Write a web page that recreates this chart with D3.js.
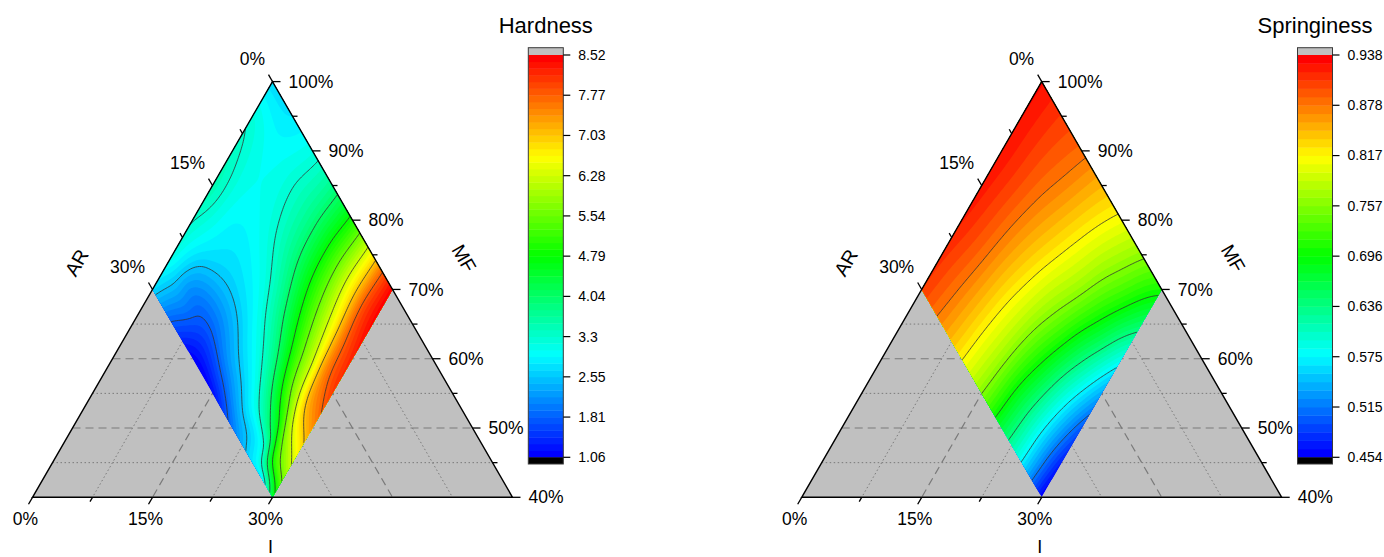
<!DOCTYPE html>
<html>
<head>
<meta charset="utf-8">
<script src="https://cdn.jsdelivr.net/npm/d3@7"></script>
<style>
  html, body { margin: 0; padding: 0; background: #ffffff; }
  svg { display: block; font-family: "Liberation Sans", Arial, Helvetica, sans-serif; }
</style>
</head>
<body>
<svg id="chart" width="1384" height="557"></svg>
<script>
// Mixture design grid: AR (rows) and I (columns), in percent; MF = 100 - AR - I
const hardnessAR = [0, 5, 10, 15, 20, 25, 27.5, 30];
const hardnessI = [0, 5, 10, 15, 20, 25, 27.5, 30];
const springAR = [0, 5, 10, 15, 20, 25, 30];
const springI = [0, 5, 10, 15, 20, 25, 30];

// Hardness response, one row per AR level, columns follow hardnessI
const hardness = [
  [2.70, 2.80, 3.15, 3.80, 4.95, 6.70, 7.77, 8.50],
  [3.20, 3.00, 3.28, 3.90, 5.12, 6.80, 7.85, 8.45],
  [3.40, 3.05, 3.20, 3.81, 5.00, 6.55, 7.65, 8.25],
  [3.50, 2.95, 2.95, 3.40, 4.55, 6.20, 7.45, 8.05],
  [3.32, 2.75, 2.60, 2.93, 3.78, 5.69, 6.90, 7.45],
  [3.15, 2.15, 1.90, 2.36, 2.97, 4.23, 5.59, 6.35],
  [2.90, 2.05, 1.50, 1.85, 2.55, 3.21, 4.79, 5.60],
  [2.70, 1.75, 1.10, 1.20, 2.00, 2.80, 3.00, 4.50]
];

// Springiness response, one row per AR level, columns follow springI
const springiness = [
  [0.930, 0.907, 0.884, 0.849, 0.810, 0.763, 0.706],
  [0.929, 0.902, 0.873, 0.833, 0.786, 0.729, 0.650],
  [0.928, 0.897, 0.860, 0.816, 0.763, 0.687, 0.589],
  [0.925, 0.890, 0.847, 0.797, 0.733, 0.642, 0.540],
  [0.920, 0.883, 0.835, 0.780, 0.703, 0.605, 0.501],
  [0.913, 0.875, 0.826, 0.767, 0.679, 0.582, 0.473],
  [0.908, 0.868, 0.819, 0.757, 0.667, 0.573, 0.456]
];

// Colour-scale labels (bottom to top)
const hardnessTicks = ["1.06", "1.81", "2.55", "3.3", "4.04", "4.79", "5.54", "6.28", "7.03", "7.77", "8.52"];
const springinessTicks = ["0.454", "0.515", "0.575", "0.636", "0.696", "0.757", "0.817", "0.878", "0.938"];

// Ternary axis ticks and grid
const arTicks = [0, 7.5, 15, 22.5, 30];
const iTicks = [0, 7.5, 15, 22.5, 30];
const mfTicks = [100, 95, 90, 85, 80, 75, 70, 65, 60, 55, 50, 45, 40];
const arGrid = [7.5, 15, 22.5];
const iGrid = [7.5, 15, 22.5];
const mfGrid = [95, 90, 85, 80, 75, 70, 65, 60, 55, 50, 45];

const panels = [
  { id: "hard", title: "Hardness", grid: hardness, arAxis: hardnessAR, iAxis: hardnessI,
    min: 1.0602, max: 8.5198, bands: 60, ticks: hardnessTicks, x0: 32.5 },
  { id: "spring", title: "Springiness", grid: springiness, arAxis: springAR, iAxis: springI,
    min: 0.4543, max: 0.9384, bands: 48, ticks: springinessTicks, x0: 801.7 }
];

const svg = d3.select("#chart");
const defs = svg.append("defs");

const rainbow = d3.scaleLinear()
  .domain([0, 0.25, 0.5, 0.75, 1])
  .range(["#0000ff", "#00ffff", "#00ff00", "#ffff00", "#ff0000"])
  .interpolate(d3.interpolateRgb);

// Cubic Hermite (Catmull-Rom style tangents) through values ys at knots xs
function cubic1(xs, ys, x) {
  const n = xs.length;
  x = Math.max(xs[0], Math.min(xs[n - 1], x));
  let k = d3.bisectRight(xs, x) - 1;
  k = Math.max(0, Math.min(n - 2, k));
  const hk = xs[k + 1] - xs[k], t = (x - xs[k]) / hk;
  const slope = j => {
    if (j === 0) return (ys[1] - ys[0]) / (xs[1] - xs[0]);
    if (j === n - 1) return (ys[n - 1] - ys[n - 2]) / (xs[n - 1] - xs[n - 2]);
    return (ys[j + 1] - ys[j - 1]) / (xs[j + 1] - xs[j - 1]);
  };
  const m0 = slope(k) * hk, m1 = slope(k + 1) * hk;
  const t2 = t * t, t3 = t2 * t;
  return (2 * t3 - 3 * t2 + 1) * ys[k] + (t3 - 2 * t2 + t) * m0 + (-2 * t3 + 3 * t2) * ys[k + 1] + (t3 - t2) * m1;
}

function drawPanel(cfg) {
  const g = svg.append("g");
  const W = 480, baseY = 497.3, apexY = 81.6;
  const xs = d3.scaleLinear().domain([0, 60]).range([cfg.x0, cfg.x0 + W]);
  const ys = d3.scaleLinear().domain([40, 100]).range([baseY, apexY]);
  const pos = (ar, i) => { const mf = 100 - ar - i; return [xs(i + (mf - 40) / 2), ys(mf)]; };
  const line = d3.line();

  // background triangle
  g.append("path")
    .attr("d", line([pos(0, 0), pos(60, 0), pos(0, 60)]) + "Z")
    .attr("fill", "#c0c0c0");

  // grid lines
  const gridG = g.append("g").attr("fill", "none").attr("stroke", "#7a7a7a");
  const addGrid = (p, q, major) => {
    gridG.append("line")
      .attr("x1", p[0]).attr("y1", p[1]).attr("x2", q[0]).attr("y2", q[1])
      .attr("stroke-width", major ? 1.2 : 1)
      .attr("stroke-dasharray", major ? "8,5" : "1.5,2.5");
  };
  mfGrid.forEach(m => addGrid(pos(100 - m, 0), pos(0, 100 - m), m % 10 === 0));
  arGrid.forEach(c => addGrid(pos(c, 0), pos(c, 60 - c), c % 15 === 0));
  iGrid.forEach(c => addGrid(pos(0, c), pos(60 - c, c), c % 15 === 0));

  // contour map, clipped to the design region
  const aMax = cfg.arAxis[cfg.arAxis.length - 1], iMax = cfg.iAxis[cfg.iAxis.length - 1];
  const region = [pos(0, 0), pos(aMax, 0), pos(aMax, iMax), pos(0, iMax)];
  const clipId = "clip-" + cfg.id;
  defs.append("clipPath").attr("id", clipId)
    .append("path").attr("d", line(region) + "Z");

  const h = 0.25, s0 = -1, n = Math.round((31 - s0) / h) + 1;
  const vals = new Float64Array(n * n);
  for (let c = 0; c < n; c++) {
    const iv = s0 + c * h;
    const colVals = cfg.grid.map(row => cubic1(cfg.iAxis, row, iv));
    for (let r = 0; r < n; r++) {
      const z = cubic1(cfg.arAxis, colVals, s0 + r * h);
      vals[r * n + c] = Math.max(cfg.min + 1e-6, Math.min(cfg.max - 1e-6, z));
    }
  }
  const proj = d3.geoTransform({
    point(x, y) {
      const q = pos(s0 + (y - 0.5) * h, s0 + (x - 0.5) * h);
      this.stream.point(q[0], q[1]);
    }
  });
  const path = d3.geoPath(proj);
  const gen = d3.contours().size([n, n]);
  const step = (cfg.max - cfg.min) / cfg.bands;

  const cg = g.append("g").attr("clip-path", `url(#${clipId})`);
  cg.append("path").attr("d", line(region) + "Z").attr("fill", rainbow(0));
  for (let k = 1; k < cfg.bands; k++) {
    cg.append("path")
      .attr("d", path(gen.contour(vals, cfg.min + k * step)))
      .attr("fill", rainbow(k / (cfg.bands - 1)));
  }
  const lg = cg.append("g").attr("fill", "none").attr("stroke", "#333333").attr("stroke-width", 0.8);
  for (let j = 1; j < cfg.ticks.length - 1; j++) {
    lg.append("path").attr("d", path(gen.contour(vals, cfg.min + j * 6 * step)));
  }

  // triangle frame
  g.append("path")
    .attr("d", line([pos(0, 0), pos(60, 0), pos(0, 60)]) + "Z")
    .attr("fill", "none").attr("stroke", "#000").attr("stroke-width", 1.4);

  const ax = g.append("g").attr("stroke", "#000").attr("stroke-width", 1.3);
  const tx = g.append("g").attr("fill", "#000").style("font-size", "17.5px");

  // MF axis (right edge)
  mfTicks.forEach(m => {
    const p = pos(0, 100 - m), major = m % 10 === 0, len = major ? 8 : 5;
    ax.append("line").attr("x1", p[0]).attr("y1", p[1]).attr("x2", p[0] + len).attr("y2", p[1]);
    if (major) {
      tx.append("text").attr("x", p[0] + len + 8).attr("y", p[1]).attr("dy", "0.35em")
        .text(m + "%");
    }
  });
  // AR axis (left edge)
  arTicks.forEach(c => {
    const p = pos(c, 0), major = c % 15 === 0, len = major ? 8 : 5;
    const e = [p[0] - 0.5 * len, p[1] - 0.866 * len];
    ax.append("line").attr("x1", p[0]).attr("y1", p[1]).attr("x2", e[0]).attr("y2", e[1]);
    if (major) {
      tx.append("text").attr("x", e[0] - 3.5).attr("y", e[1] - 9.3)
        .attr("text-anchor", "end").text(c + "%");
    }
  });
  // I axis (bottom edge)
  iTicks.forEach(c => {
    const p = pos(60 - c, c), major = c % 15 === 0, len = major ? 8 : 5;
    const e = [p[0] - 0.5 * len, p[1] + 0.866 * len];
    ax.append("line").attr("x1", p[0]).attr("y1", p[1]).attr("x2", e[0]).attr("y2", e[1]);
    if (major) {
      tx.append("text").attr("x", e[0] - 3).attr("y", e[1] + 21)
        .attr("text-anchor", "middle").text(c + "%");
    }
  });

  // axis titles
  const tt = g.append("g").attr("fill", "#000").style("font-size", "19.5px").attr("text-anchor", "middle");
  tt.append("text").attr("transform", `translate(${cfg.x0 + 44.2},${262.7}) rotate(-60)`)
    .attr("dy", "0.35em").text("AR");
  tt.append("text").attr("transform", `translate(${cfg.x0 + 431.5},${258.3}) rotate(60)`)
    .attr("dy", "0.35em").text("MF");
  tt.append("text").attr("x", cfg.x0 + 238).attr("y", 553).style("font-size", "18px").text("I");

  // colour scale
  const bx = cfg.x0 + 495.8, bw = 35;
  const by = d3.scaleLinear().domain([cfg.min, cfg.max]).range([457.3, 55]);
  const cb = g.append("g");
  for (let k = 0; k < cfg.bands; k++) {
    const y1 = by(cfg.min + (k + 1) * step), y0 = by(cfg.min + k * step);
    cb.append("rect").attr("x", bx).attr("y", y1).attr("width", bw).attr("height", y0 - y1 + 0.4)
      .attr("fill", rainbow(k / (cfg.bands - 1)));
  }
  cb.append("rect").attr("x", bx).attr("y", 47.7).attr("width", bw).attr("height", 55 - 47.7).attr("fill", "#c0c0c0");
  cb.append("rect").attr("x", bx).attr("y", 457.3).attr("width", bw).attr("height", 464 - 457.3).attr("fill", "#000");
  cb.append("rect").attr("x", bx).attr("y", 47.7).attr("width", bw).attr("height", 464 - 47.7)
    .attr("fill", "none").attr("stroke", "#3a3a3a").attr("stroke-width", 1);
  cfg.ticks.forEach((lab, j) => {
    const y = by(cfg.min + j * 6 * step);
    cb.append("line").attr("x1", bx + bw).attr("x2", bx + bw + 7).attr("y1", y).attr("y2", y)
      .attr("stroke", "#000").attr("stroke-width", 1.2);
    cb.append("text").attr("x", bx + bw + 15).attr("y", y).attr("dy", "0.35em")
      .style("font-size", "14px").attr("fill", "#000").text(lab);
  });
  cb.append("text").attr("x", bx + bw / 2).attr("y", 33.3).attr("text-anchor", "middle")
    .style("font-size", "22px").attr("fill", "#000").text(cfg.title);
}

panels.forEach(drawPanel);
</script>
</body>
</html>
